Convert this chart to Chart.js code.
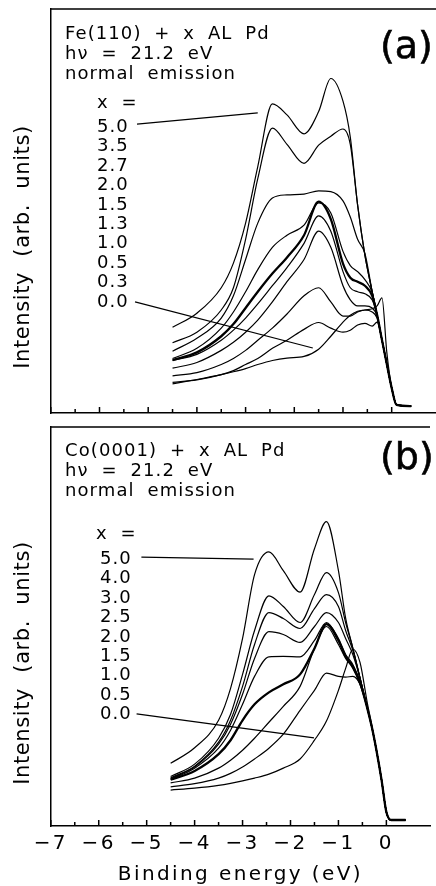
<!DOCTYPE html>
<html>
<head>
<meta charset="utf-8">
<script src="https://cdn.jsdelivr.net/npm/chart.js@4.4.1/dist/chart.umd.min.js"></script>
<style>
  html, body { margin: 0; padding: 0; background: #fff; }
  body { width: 436px; height: 886px; overflow: hidden; position: relative;
         font-family: "DejaVu Sans", sans-serif; color: #000; }
  canvas { position: absolute; left: 0; }
  #feChart { top: 0; }
  #coChart { top: 420px; }
  .txt { position: absolute; white-space: pre; font-size: 18px; letter-spacing: 1.1px;
         word-spacing: 6px; line-height: 20px; }
  .nums { line-height: 19.4px; }
  .big { position: absolute; font-size: 38px; line-height: 38px; -webkit-text-stroke: 0.6px #000; }
  .ytitle { position: absolute; font-size: 21px; letter-spacing: 0.6px; word-spacing: 8px;
            white-space: nowrap; transform: translate(-50%, -50%) rotate(-90deg); }
</style>
</head>
<body>
<canvas id="feChart" width="436" height="420"></canvas>
<canvas id="coChart" width="436" height="466"></canvas>

<div class="txt" style="left:65px;top:23px">Fe(110) + x AL Pd
hν = 21.2 eV
normal emission</div>
<div class="big" style="left:380px;top:26px">(a)</div>
<div class="txt" style="left:97px;top:92px">x =</div>
<div class="txt nums" id="feNums" style="left:97px;top:116px"></div>
<div class="ytitle" style="left:22px;top:247px">Intensity (arb. units)</div>

<div class="txt" style="left:65px;top:440px">Co(0001) + x AL Pd
hν = 21.2 eV
normal emission</div>
<div class="big" style="left:380px;top:437px">(b)</div>
<div class="txt" style="left:96px;top:523px">x =</div>
<div class="txt nums" id="coNums" style="left:100px;top:548px"></div>
<div class="ytitle" style="left:22px;top:663px">Intensity (arb. units)</div>

<script>
// binding energy grid (eV), shared by both panels
var energy = [-4.5, -4.0, -3.5, -3.25, -3.0, -2.75, -2.45, -2.15, -1.8, -1.5, -1.25,
              -1.0, -0.85, -0.7, -0.55, -0.4, -0.3, -0.2, -0.1, 0.0, 0.1, 0.4];

// (a) Fe(110) + x AL Pd
var feCoverage = ['5.0', '3.5', '2.7', '2.0', '1.5', '1.3', '1.0', '0.5', '0.3', '0.0'];
var fe50 = [21.2, 24.7, 31.0, 37.1, 47.0, 61.0, 76.5, 73.8, 69.1, 74.6, 82.8, 77.2, 68.3, 51.5, 39.1, 30.0, 24.3, 18.1, 12.1, 6.2, 2.0, 1.7];
var fe35 = [17.4, 20.0, 25.5, 31.0, 43.0, 58.0, 70.5, 66.5, 61.8, 66.3, 68.5, 70.3, 66.5, 51.5, 39.1, 30.0, 24.3, 18.1, 12.1, 6.2, 2.0, 1.7];
var fe27 = [15.3, 18.5, 23.5, 29.0, 38.0, 47.0, 53.2, 54.0, 54.2, 55.0, 54.8, 52.5, 48.5, 43.0, 39.5, 30.0, 24.3, 18.1, 12.1, 6.2, 2.0, 1.7];
var fe20 = [13.5, 16.0, 21.0, 25.0, 30.0, 35.5, 41.0, 44.0, 46.5, 52.0, 49.5, 40.0, 36.5, 35.0, 33.0, 29.8, 24.3, 18.1, 12.1, 6.2, 2.0, 1.7];
var fe15 = [13.1, 15.0, 19.0, 22.0, 26.0, 30.0, 34.5, 38.5, 44.0, 52.3, 48.0, 37.0, 33.5, 32.5, 31.5, 29.0, 24.3, 18.1, 12.1, 6.2, 2.0, 1.7];
var fe13 = [13.0, 14.5, 18.0, 20.5, 23.5, 27.0, 31.5, 36.0, 42.0, 48.8, 45.0, 35.0, 31.0, 30.0, 29.5, 28.0, 24.3, 18.1, 12.1, 6.2, 2.0, 1.7];
var fe10 = [11.1, 12.5, 15.5, 17.5, 20.0, 23.0, 27.5, 32.5, 38.0, 45.0, 41.0, 31.5, 28.0, 26.5, 26.5, 26.0, 24.0, 18.1, 12.1, 6.2, 2.0, 1.7];
var fe05 = [9.2, 10.0, 12.0, 13.5, 15.5, 18.0, 21.0, 24.5, 29.0, 31.0, 27.5, 24.0, 24.0, 25.0, 25.5, 25.0, 23.5, 18.1, 12.1, 6.2, 2.0, 1.7];
var fe03 = [7.6, 8.2, 9.5, 10.5, 12.0, 13.5, 16.0, 18.0, 20.7, 22.4, 21.0, 20.0, 20.5, 21.8, 22.2, 21.5, 22.5, 18.1, 12.1, 6.2, 2.0, 1.7];
var fe00 = [7.2, 8.3, 9.5, 10.2, 11.0, 12.0, 13.0, 13.6, 14.0, 15.8, 19.0, 22.5, 24.2, 25.2, 25.5, 25.8, 26.5, 28.5, 15.0, 6.2, 2.0, 1.7];
var feCurves = [fe50, fe35, fe27, fe20, fe15, fe13, fe10, fe05, fe03, fe00];

// (b) Co(0001) + x AL Pd
var coCoverage = ['5.0', '4.0', '3.0', '2.5', '2.0', '1.5', '1.0', '0.5', '0.0'];
var co50 = [15.7, 19.6, 26.5, 34.5, 47.0, 63.0, 68.7, 64.0, 58.6, 69.5, 76.3, 64.0, 52.1, 44.6, 37.1, 29.6, 24.6, 18.5, 11.5, 3.5, 1.5, 1.5];
var co40 = [12.4, 15.5, 22.0, 28.0, 38.0, 49.0, 57.7, 55.0, 51.0, 58.0, 63.5, 58.5, 51.0, 44.6, 37.1, 29.6, 24.6, 18.5, 11.5, 3.5, 1.5, 1.5];
var co30 = [12.1, 15.0, 21.0, 26.5, 35.0, 45.5, 53.5, 52.0, 49.5, 54.5, 58.0, 55.0, 49.0, 44.0, 37.1, 29.6, 24.6, 18.5, 11.5, 3.5, 1.5, 1.5];
var co25 = [11.9, 14.8, 20.5, 25.5, 33.0, 42.0, 48.7, 48.0, 46.0, 50.0, 53.5, 51.0, 47.0, 43.0, 37.0, 29.6, 24.6, 18.5, 11.5, 3.5, 1.5, 1.5];
var co20 = [11.7, 14.5, 19.5, 24.0, 30.5, 37.5, 42.4, 42.5, 42.4, 46.5, 51.0, 47.0, 43.0, 40.5, 36.0, 29.6, 24.6, 18.5, 11.5, 3.5, 1.5, 1.5];
var co15 = [11.6, 13.8, 18.0, 21.5, 26.5, 30.5, 33.5, 35.5, 38.0, 44.5, 50.6, 46.5, 42.5, 40.0, 36.0, 29.6, 24.6, 18.5, 11.5, 3.5, 1.5, 1.5];
var co10 = [10.8, 12.0, 14.5, 16.5, 19.0, 22.0, 26.0, 30.0, 35.0, 44.5, 50.0, 45.5, 42.0, 39.5, 35.5, 29.6, 24.6, 18.5, 11.5, 3.5, 1.5, 1.5];
var co05 = [9.8, 10.6, 12.0, 13.2, 14.8, 16.8, 19.5, 23.0, 29.0, 34.0, 38.3, 37.5, 37.3, 37.5, 35.5, 29.6, 24.6, 18.5, 11.5, 3.5, 1.5, 1.5];
var co00 = [9.0, 9.5, 10.2, 10.7, 11.3, 12.0, 13.0, 14.5, 16.8, 21.5, 26.3, 34.0, 39.5, 44.3, 41.0, 31.0, 25.0, 18.5, 11.5, 3.5, 1.5, 1.5];
var coCurves = [co50, co40, co30, co25, co20, co15, co10, co05, co00];

// leader lines from the x = labels to the curves (energy, intensity)
var feLeaderTopX = [-5.23, -2.75], feLeaderTopY = [71.5, 74.3];
var feLeaderBotX = [-5.27, -1.62], feLeaderBotY = [27.5, 16.1];
var coLeaderTopX = [-5.11, -2.77], coLeaderTopY = [67.4, 66.9];
var coLeaderBotX = [-5.21, -1.51], coLeaderBotY = [28.1, 22.1];

document.getElementById('feNums').textContent = feCoverage.join('\n');
document.getElementById('coNums').textContent = coCoverage.join('\n');

function toPoints(xs, ys) {
  return xs.map(function(x, i) { return {x: x, y: ys[i]}; });
}

// top frame line and inward tick marks
var framePlugin = {
  id: 'frame',
  afterDraw: function(chart) {
    var ctx = chart.ctx, area = chart.chartArea, xs = chart.scales.x;
    ctx.save();
    ctx.strokeStyle = '#000';
    ctx.lineWidth = 1.5;
    ctx.beginPath();
    ctx.moveTo(area.left, area.top);
    ctx.lineTo(area.right, area.top);
    xs.ticks.forEach(function(t) {
      if (Math.abs(t.value * 2 - Math.round(t.value * 2)) > 1e-6) return;
      var px = xs.getPixelForValue(t.value);
      var len = Number.isInteger(t.value) ? 6 : 4;
      ctx.moveTo(px, area.bottom);
      ctx.lineTo(px, area.bottom - len);
    });
    ctx.stroke();
    ctx.restore();
  }
};

// wide lettering like the original plot font
var spacingPlugin = {
  id: 'spacing',
  beforeDraw: function(chart) { chart.ctx.letterSpacing = '2.4px'; }
};

function makeChart(id, curves, labels, thick, leaders, cfg) {
  var datasets = curves.map(function(c, i) {
    return {
      label: labels[i],
      data: toPoints(energy, c),
      borderColor: '#000',
      borderWidth: i === thick ? 2.3 : 1.2,
      pointRadius: 0,
      fill: false,
      cubicInterpolationMode: 'monotone'
    };
  });
  leaders.forEach(function(l) {
    datasets.push({
      label: 'leader',
      data: toPoints(l[0], l[1]),
      borderColor: '#000',
      borderWidth: 1.2,
      pointRadius: 0,
      fill: false,
      tension: 0
    });
  });

  return new Chart(id, {
    type: 'line',
    data: {datasets: datasets},
    options: {
      responsive: false,
      animation: false,
      devicePixelRatio: 1,
      layout: {padding: {top: cfg.padTop, bottom: 0, left: 0, right: 0}},
      plugins: {legend: {display: false}, tooltip: {enabled: false}},
      scales: {
        x: {
          type: 'linear',
          min: -7,
          max: 0.91,
          ticks: {
            display: cfg.showLabels,
            stepSize: 0.5,
            autoSkip: false,
            maxRotation: 0,
            padding: 6,
            color: '#000',
            font: {size: 20},
            callback: function(v) {
              if (!Number.isInteger(v)) return '';
              return v < 0 ? '\u2212' + Math.abs(v) : String(v);
            }
          },
          grid: {display: false, drawTicks: false},
          border: {color: '#000', width: 1.5},
          title: {
            display: cfg.showLabels,
            text: 'Binding energy (eV)',
            color: '#000',
            font: {size: 20, lineHeight: 1.1},
            padding: {top: 0, bottom: 0}
          },
          afterFit: function(s) { s.height = cfg.xHeight; }
        },
        y: {
          min: 0,
          max: 100,
          ticks: {display: false},
          grid: {display: false, drawTicks: false},
          border: {color: '#000', width: 1.5},
          afterFit: function(s) { s.width = 50.8; }
        }
      }
    },
    plugins: [framePlugin, spacingPlugin]
  });
}

Chart.defaults.font.family = '"DejaVu Sans", sans-serif';

makeChart('feChart', feCurves, feCoverage, 4,
  [[feLeaderTopX, feLeaderTopY], [feLeaderBotX, feLeaderBotY]],
  {padTop: 9, xHeight: 7, showLabels: false});

makeChart('coChart', coCurves, coCoverage, 5,
  [[coLeaderTopX, coLeaderTopY], [coLeaderBotX, coLeaderBotY]],
  {padTop: 7, xHeight: 60, showLabels: true});
</script>
</body>
</html>
